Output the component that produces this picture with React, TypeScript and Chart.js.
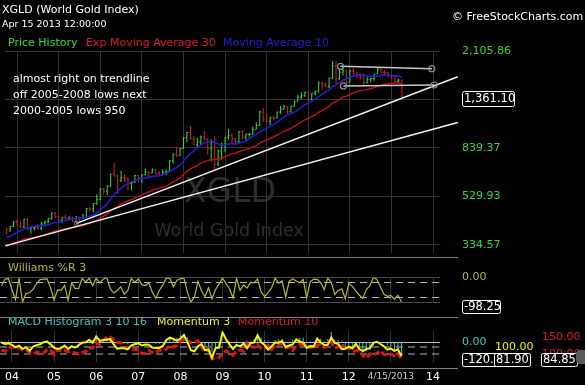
import React, { useEffect, useRef } from 'react';
import { Chart, registerables } from 'chart.js';

Chart.register(...registerables);

const FONT = "'DejaVu Sans', Verdana, sans-serif";
Chart.defaults.font.family = FONT;

// ---------------- data (monthly bars, Oct 2003 .. Apr 15 2013) ----------------
const FIRST_MONTH = 2003 + 9 / 12; // x value of the first bar (Oct 2003)
const X_MIN = 2003.715;
const X_MAX = 2014.166;

// closes before the first visible bar, used only to warm up the indicators
const PRE_CLOSE = [282, 297, 302, 309, 327, 318, 304, 312, 324, 317, 319, 347, 368, 347, 334, 337, 361, 346, 354, 375, 388];

const OPEN = [
  388, 386, 398,
  416, 403, 396, 427, 388, 393, 395, 391, 408, 416, 429, 452,
  438, 422, 434, 428, 435, 417, 435, 429, 433, 472, 470, 495,
  513, 569, 556, 583, 654, 643, 614, 633, 626, 599, 604, 646,
  632, 650, 665, 662, 680, 659, 650, 665, 673, 743, 789, 783,
  834, 923, 971, 916, 864, 887, 930, 913, 833, 884, 718, 815,
  869, 928, 942, 916, 891, 979, 927, 955, 955, 1001, 1040, 1181,
  1096, 1081, 1118, 1113, 1180, 1213, 1244, 1181, 1248, 1307, 1359, 1386,
  1421, 1332, 1410, 1439, 1556, 1536, 1500, 1628, 1828, 1620, 1722, 1746,
  1565, 1737, 1696, 1668, 1664, 1560, 1604.2, 1622, 1692, 1772, 1719, 1713,
  1675, 1662, 1578, 1595,
];
const HIGH = [
  394, 400, 418,
  427, 417, 428, 431, 396, 398, 408, 416, 419, 432, 455, 457,
  440, 437, 446, 438, 436, 441, 437, 448, 474, 479, 497, 541,
  572, 575, 588, 654, 730, 651, 675, 653, 633, 610, 649, 647,
  653, 690, 670, 692, 689, 673, 686, 684, 745, 795, 848, 838,
  931, 976, 1033, 940, 925, 945, 988, 916, 912, 937, 827, 883,
  932, 1006, 964, 920, 983, 992, 960, 967, 1025, 1070, 1195, 1227,
  1162, 1128, 1140, 1183, 1249, 1265, 1245, 1250, 1315, 1388, 1424, 1431,
  1424, 1414, 1448, 1575, 1577, 1556, 1632, 1913, 1921, 1764, 1804, 1764,
  1763, 1791, 1720, 1676, 1668, 1640, 1630, 1692, 1790, 1796, 1755, 1723,
  1694, 1682, 1617, 1605,
];
const LOW = [
  370, 378, 396,
  400, 392, 391, 387, 372, 383, 386, 384, 399, 411, 425, 431,
  418, 411, 425, 422, 414, 414, 418, 427, 432, 459, 456, 489,
  513, 538, 536, 580, 640, 543, 605, 606, 561, 560, 602, 606,
  603, 648, 636, 662, 652, 642, 648, 648, 672, 723, 772, 779,
  834, 885, 913, 862, 846, 859, 901, 786, 737, 681, 705, 750,
  805, 906, 878, 866, 868, 913, 905, 932, 950, 1000, 1035, 1076,
  1072, 1044, 1088, 1110, 1160, 1209, 1157, 1176, 1242, 1307, 1331, 1360,
  1309, 1324, 1381, 1418, 1462, 1495, 1478, 1611, 1535, 1602, 1668, 1523,
  1563, 1693, 1627, 1612, 1527, 1548, 1564, 1587, 1692, 1702, 1673, 1635,
  1626, 1555, 1562, 1355.4,
];
const CLOSE = [
  386, 398, 416,
  403, 396, 427, 388, 393, 395, 391, 408, 416, 429, 452, 438,
  422, 434, 428, 435, 417, 435, 429, 433, 472, 470, 495, 513,
  569, 556, 583, 654, 643, 614, 633, 626, 599, 604, 646, 632,
  650, 665, 662, 680, 659, 650, 665, 673, 743, 789, 783, 834,
  923, 971, 916, 864, 887, 930, 913, 833, 884, 718, 815, 869,
  928, 942, 916, 891, 979, 927, 955, 955, 1001, 1040, 1181, 1096,
  1081, 1118, 1113, 1180, 1213, 1244, 1181, 1248, 1307, 1359, 1386, 1421,
  1332, 1410, 1439, 1556, 1536, 1500, 1628, 1828, 1620, 1722, 1746, 1565,
  1737, 1696, 1668, 1664, 1560, 1604.2, 1622, 1692, 1772, 1719, 1713, 1675,
  1662, 1578, 1595, 1361.1,
];

const YEAR_TICKS = [2004, 2005, 2006, 2007, 2008, 2009, 2010, 2011, 2012, 2013, 2014];
const YEAR_LABELS = ['04', '05', '06', '07', '08', '09', '10', '11', '12', '4/15/2013', '14'];

const PRICE_MIN = 310;
const PRICE_MAX = 2105.86;
const PRICE_TICKS = [334.57, 529.93, 839.37, 1329.5, 2105.86];
const LAST_PRICE = 1361.1;

const WILLIAMS_TICKS = [-100, 0];
const WILLIAMS_TICK_LABELS = ['', '0.00'];
const WILLIAMS_LEVELS = [-20, -80];
const WILLIAMS_LAST = -98.25;

const MACD_TICKS = [0];
const MOM3_TICKS = [100];
const MOM10_TICKS = [100, 150];
const MACD_LAST_TEXT = '-120.';

// hand-drawn trend lines (x = year, y = price)
const TREND_UPPER = [{ x: 2005.425, y: 410 }, { x: 2014.594, y: 1649 }];
const TREND_LOWER = [{ x: 2003.715, y: 331 }, { x: 2014.594, y: 1068 }];
const CHANNEL_TOP = [{ x: 2011.775, y: 1820 }, { x: 2013.969, y: 1781 }];
const CHANNEL_BOTTOM = [{ x: 2011.846, y: 1511 }, { x: 2014.024, y: 1525 }];

const NOTE_LINES = ['almost right on trendline', 'off 2005-2008 lows next', '2000-2005 lows 950'];

// ---------------- colours ----------------
const GRID = '#333333';
const GREEN = '#2fe02f';
const RED = '#dd1a1a';
const BLUE = '#2020d8';
const WHITE = '#ffffff';
const OLIVE = '#b8b830';
const CYAN = '#3cc8c8';
const YELLOW = '#f2f20a';
const SEP = '#808080';

// ---------------- derived indicator series ----------------
const XS = CLOSE.map((_, i) => FIRST_MONTH + i / 12);
const ALL_CLOSE = [...PRE_CLOSE, ...CLOSE];
const P0 = PRE_CLOSE.length;

function emaSeries(src: number[], n: number) {
  const a = 2 / (n + 1);
  const out: number[] = [];
  let e = src[0];
  src.forEach((v, i) => {
    e = i === 0 ? v : e + a * (v - e);
    out.push(e);
  });
  return out;
}
function smaSeries(src: number[], n: number) {
  return src.map((_, i) => {
    const s = Math.max(0, i - n + 1);
    const w = src.slice(s, i + 1);
    return w.reduce((a, b) => a + b, 0) / w.length;
  });
}
const EMA30 = emaSeries(ALL_CLOSE, 30).slice(P0);
const SMA10 = smaSeries(ALL_CLOSE, 10).slice(P0);
const E3 = emaSeries(ALL_CLOSE, 3);
const E10 = emaSeries(ALL_CLOSE, 10);
const MACD = E3.map((v, i) => v - E10[i]);
const SIG = emaSeries(MACD, 16);
const HIST = MACD.map((v, i) => v - SIG[i]).slice(P0);
const MOM3 = CLOSE.map((c, i) => (c / ALL_CLOSE[P0 + i - 3]) * 100);
const MOM10 = CLOSE.map((c, i) => (c / ALL_CLOSE[P0 + i - 10]) * 100);
const WILLR = CLOSE.map((c, i) => {
  const s = Math.max(0, i - 2);
  const hh = Math.max(...HIGH.slice(s, i + 1));
  const ll = Math.min(...LOW.slice(s, i + 1));
  return ((hh - c) / (hh - ll)) * -100;
});

const pts = (arr: number[]) => arr.map((v, i) => ({ x: XS[i], y: v }));
const fmt2 = (v: number) => v.toLocaleString('en-US', { minimumFractionDigits: 2, maximumFractionDigits: 2 });

// ---------------- helpers ----------------
function txt(ctx: CanvasRenderingContext2D, s: string, x: number, y: number, color: string, size: number, align: CanvasTextAlign = 'left') {
  ctx.fillStyle = color;
  ctx.font = `${size}px ${FONT}`;
  ctx.textAlign = align;
  ctx.textBaseline = 'middle';
  ctx.fillText(s, x, y);
}
function drawBox(ctx: CanvasRenderingContext2D, s: string, x: number, y: number, w: number, h: number) {
  ctx.save();
  ctx.beginPath();
  if ((ctx as any).roundRect) (ctx as any).roundRect(x + 0.5, y + 0.5, w, h, 2);
  else ctx.rect(x + 0.5, y + 0.5, w, h);
  ctx.fillStyle = '#000';
  ctx.fill();
  ctx.strokeStyle = '#ffffff';
  ctx.lineWidth = 1;
  ctx.stroke();
  ctx.clip();
  txt(ctx, s, x + 2, y + h / 2 + 1, WHITE, 11.5);
  ctx.restore();
}
function hline(ctx: CanvasRenderingContext2D, y: number, x1: number, x2: number, color: string) {
  ctx.save();
  ctx.strokeStyle = color;
  ctx.lineWidth = 1;
  ctx.beginPath();
  ctx.moveTo(x1, y);
  ctx.lineTo(x2, y);
  ctx.stroke();
  ctx.restore();
}

function xScale(showLabels: boolean): any {
  return {
    type: 'linear',
    min: X_MIN,
    max: X_MAX,
    offset: false,
    afterBuildTicks: (s: any) => {
      s.ticks = YEAR_TICKS.map((v) => ({ value: v }));
    },
    afterFit: (s: any) => {
      s.height = showLabels ? 23 : 0;
      s.paddingLeft = 0;
      s.paddingRight = 0;
    },
    grid: { color: GRID, drawTicks: false, offset: false },
    border: { display: false },
    ticks: {
      display: showLabels,
      padding: 9,
      autoSkip: false,
      maxRotation: 0,
      callback: (_v: any, i: number) => YEAR_LABELS[i],
      color: (c: any) => (c.tick && c.tick.value === 2013 ? '#c8c8c8' : WHITE),
      font: (c: any) => ({ family: FONT, size: c.tick && c.tick.value === 2013 ? 9 : 11 }),
    },
  };
}
function yRight(width: number, pad: number, ticks: number[], labels: string[], color: string, extra: any): any {
  return {
    position: 'right',
    afterBuildTicks: (s: any) => {
      s.ticks = ticks.map((v) => ({ value: v }));
    },
    afterFit: (s: any) => {
      s.width = width;
      s.paddingTop = 0;
      s.paddingBottom = 0;
    },
    border: { display: false },
    ticks: {
      padding: pad,
      color,
      autoSkip: false,
      font: { family: FONT, size: 11 },
      callback: (_v: any, i: number) => labels[i],
    },
    ...extra,
  };
}
const baseOpts = {
  responsive: false,
  animation: false as const,
  events: [] as any[],
  plugins: { legend: { display: false }, tooltip: { enabled: false } },
};

export default function App() {
  const priceRef = useRef<HTMLCanvasElement>(null);
  const wrRef = useRef<HTMLCanvasElement>(null);
  const macdRef = useRef<HTMLCanvasElement>(null);

  useEffect(() => {
    const up = CLOSE.map((c, i) => c >= OPEN[i]);
    const barColors = up.map((u) => (u ? GREEN : RED));

    const pricePlugin = {
      id: 'priceDecor',
      beforeDatasetsDraw(chart: any) {
        const ctx = chart.ctx;
        ctx.save();
        ctx.fillStyle = '#2e2e2e';
        ctx.textAlign = 'center';
        ctx.textBaseline = 'alphabetic';
        ctx.font = `33px ${FONT}`;
        ctx.fillText('XGLD', 230, 202);
        ctx.font = `17.5px ${FONT}`;
        ctx.fillText('World Gold Index', 229, 236);
        ctx.restore();
      },
      afterDraw(chart: any) {
        const ctx = chart.ctx;
        ctx.save();
        txt(ctx, 'XGLD (World Gold Index)', 2, 10, WHITE, 11);
        txt(ctx, 'Apr 15 2013 12:00:00', 2, 25, WHITE, 9.5);
        txt(ctx, '© FreeStockCharts.com', 452, 17, WHITE, 11);
        txt(ctx, 'Price History', 8, 43, GREEN, 11);
        txt(ctx, 'Exp Moving Average 30', 86, 43, RED, 11);
        txt(ctx, 'Moving Average 10', 223, 43, BLUE, 11);
        NOTE_LINES.forEach((s, i) => txt(ctx, s, 13, 79 + i * 16, WHITE, 11));
        hline(ctx, 257.5, 0, 458, SEP);
        const py = chart.scales.y.getPixelForValue(LAST_PRICE);
        drawBox(ctx, fmt2(LAST_PRICE), 462, Math.round(py) - 6, 52, 15);
        ctx.restore();
      },
    };

    const price = new Chart(priceRef.current!, {
      type: 'line',
      data: {
        datasets: [
          { data: CHANNEL_TOP, borderColor: '#c8c8c8', borderWidth: 1.5, pointRadius: 3, pointBorderColor: '#8a8a8a', pointBackgroundColor: 'rgba(0,0,0,0)', pointBorderWidth: 1.2, clip: false } as any,
          { data: CHANNEL_BOTTOM, borderColor: '#c8c8c8', borderWidth: 1.5, pointRadius: 3, pointBorderColor: '#8a8a8a', pointBackgroundColor: 'rgba(0,0,0,0)', pointBorderWidth: 1.2, clip: false },
          { data: TREND_UPPER, borderColor: '#f0f0f0', borderWidth: 1.5, pointRadius: [2, 0], pointBorderColor: '#8a8a8a', pointBackgroundColor: 'rgba(0,0,0,0)', pointBorderWidth: 1, clip: false },
          { data: TREND_LOWER, borderColor: '#f0f0f0', borderWidth: 1.5, pointRadius: 0, clip: false },
          { data: pts(SMA10), borderColor: BLUE, borderWidth: 1.5, pointRadius: 0, tension: 0 },
          { data: pts(EMA30), borderColor: '#cc1212', borderWidth: 1.3, pointRadius: 0, tension: 0 },
          { data: pts(OPEN), showLine: false, pointStyle: 'dash', rotation: 180, pointRadius: 1.2, pointBorderWidth: 1, pointBorderColor: barColors, pointBackgroundColor: barColors },
          { data: pts(CLOSE), showLine: false, pointStyle: 'dash', rotation: 0, pointRadius: 1.2, pointBorderWidth: 1, pointBorderColor: barColors, pointBackgroundColor: barColors },
          { type: 'bar', data: XS.map((x, i) => ({ x, y: [LOW[i], HIGH[i]] })), backgroundColor: barColors, barThickness: 1, borderWidth: 0, inflateAmount: 0 } as any,
        ],
      },
      options: {
        ...baseOpts,
        layout: { padding: { top: 51, bottom: 1, left: 0, right: 0 } },
        scales: {
          x: xScale(false),
          y: yRight(145, 22, PRICE_TICKS, PRICE_TICKS.map(fmt2), '#33d633', {
            type: 'logarithmic',
            min: PRICE_MIN,
            max: PRICE_MAX,
            grid: { color: GRID, drawTicks: false },
          }),
        },
      } as any,
      plugins: [pricePlugin],
    });

    const wrPlugin = {
      id: 'wrDecor',
      afterDraw(chart: any) {
        const ctx = chart.ctx;
        ctx.save();
        txt(ctx, 'Williams %R 3', 8, 10.5, OLIVE, 11);
        hline(ctx, 59.5, 0, 458, SEP);
        drawBox(ctx, fmt2(WILLIAMS_LAST), 462, 42, 38, 13);
        ctx.restore();
      },
    };
    const refLine = (v: number, axis: string) => ({
      data: [{ x: X_MIN, y: v }, { x: X_MAX, y: v }],
      yAxisID: axis,
      borderColor: '#b4b4b4',
      borderWidth: 1,
      borderDash: [7, 5],
      pointRadius: 0,
    });

    const wr = new Chart(wrRef.current!, {
      type: 'line',
      data: {
        datasets: [
          { data: pts(WILLR), yAxisID: 'y', borderColor: OLIVE, borderWidth: 1.2, pointRadius: 0, tension: 0 },
          ...WILLIAMS_LEVELS.map((v) => refLine(v, 'y')),
        ],
      },
      options: {
        ...baseOpts,
        layout: { padding: { top: 19.5, bottom: 15.5, left: 0, right: 0 } },
        scales: {
          x: xScale(false),
          y: yRight(145, 22, WILLIAMS_TICKS, WILLIAMS_TICK_LABELS, OLIVE, {
            type: 'linear',
            min: -100,
            max: 0,
            grid: { color: '#4a4a4a', drawTicks: false },
          }),
        },
      } as any,
      plugins: [wrPlugin],
    });

    const macdPlugin = {
      id: 'macdDecor',
      afterDraw(chart: any) {
        const ctx = chart.ctx;
        ctx.save();
        txt(ctx, 'MACD Histogram 3 10 16', 8, 4.5, CYAN, 11);
        txt(ctx, 'Momentum 3', 157, 4.5, YELLOW, 11);
        txt(ctx, 'Momentum 10', 238, 4.5, RED, 11);
        hline(ctx, 50.5, 0, 458, SEP);
        drawBox(ctx, MACD_LAST_TEXT, 462, 35, 35, 13);
        drawBox(ctx, fmt2(MOM3[MOM3.length - 1]), 494, 35, 36, 13);
        drawBox(ctx, fmt2(MOM10[MOM10.length - 1]), 541, 35, 36, 13);
        ctx.fillStyle = '#5a5a5a';
        ctx.beginPath();
        if ((ctx as any).roundRect) (ctx as any).roundRect(576, 32, 12, 14, 4);
        else ctx.rect(576, 32, 12, 14);
        ctx.fill();
        ctx.restore();
      },
    };

    const macd = new Chart(macdRef.current!, {
      type: 'line',
      data: {
        datasets: [
          { data: pts(MOM3), yAxisID: 'yY', borderColor: YELLOW, borderWidth: 2, pointRadius: 0, tension: 0 },
          { data: pts(MOM10), yAxisID: 'yR', borderColor: '#e01414', borderWidth: 3, borderDash: [6, 3], pointRadius: 0, tension: 0 },
          { type: 'bar', data: pts(HIST), yAxisID: 'yC', backgroundColor: CYAN, barThickness: 1, borderWidth: 0, inflateAmount: 0 } as any,
          refLine(MOM3_TICKS[0], 'yY'),
          refLine(MOM10_TICKS[0], 'yR'),
        ],
      },
      options: {
        ...baseOpts,
        layout: { padding: { top: 13, bottom: 0, left: 0, right: 0 } },
        scales: {
          x: xScale(true),
          yC: yRight(52, 22, MACD_TICKS, ['0.00'], CYAN, {
            type: 'linear', min: -154, max: 85,
            grid: { color: '#bdbdbd', drawTicks: false },
          }),
          yY: yRight(48, 3, MOM3_TICKS, ['100.00'], YELLOW, {
            type: 'linear', min: 70, max: 132,
            grid: { display: false, drawTicks: false },
          }),
          yR: yRight(45, 2, MOM10_TICKS, ['100.00', '150.00'], RED, {
            type: 'linear', min: 76.5, max: 167.6,
            grid: { display: false, drawTicks: false },
          }),
        },
      } as any,
      plugins: [macdPlugin],
    });

    return () => {
      price.destroy();
      wr.destroy();
      macd.destroy();
    };
  }, []);

  return (
    <div style={{ position: 'fixed', left: 0, top: 0, width: 585, height: 385, background: '#000', overflow: 'hidden' }}>
      <canvas ref={priceRef} width={585} height={258} style={{ position: 'absolute', left: 0, top: 0 }} />
      <canvas ref={wrRef} width={585} height={60} style={{ position: 'absolute', left: 0, top: 258 }} />
      <canvas ref={macdRef} width={585} height={67} style={{ position: 'absolute', left: 0, top: 318 }} />
    </div>
  );
}
